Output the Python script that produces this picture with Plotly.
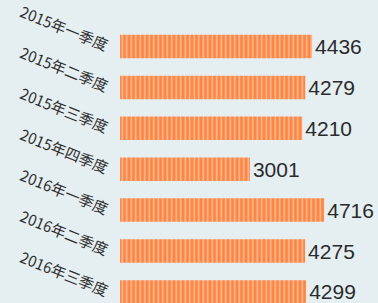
import plotly.graph_objects as go

categories = ["2015年一季度", "2015年二季度", "2015年三季度", "2015年四季度",
              "2016年一季度", "2016年二季度", "2016年三季度"]
values = [4436, 4279, 4210, 3001, 4716, 4275, 4299]

W, H = 378, 303
left = 120
px_per_unit = 0.0433
row = 40.9
first_center = 46.5
BG = "#e5eff2"
ORANGE = "#fd8644"

x_max = (W - left) / px_per_unit
y_top = -first_center / row
y_bot = y_top + H / row

fig = go.Figure(go.Bar(
    x=values,
    y=list(range(len(categories))),
    orientation="h",
    marker=dict(
        color=ORANGE,
        line=dict(width=0),
        pattern=dict(shape="|", fgcolor="#ffffff", bgcolor=ORANGE,
                     size=4.5, solidity=0.3),
    ),
    text=[str(v) for v in values],
    textposition="outside",
    textfont=dict(family="Liberation Sans, Arial, sans-serif", size=21, color="#2b2b2b"),
    cliponaxis=False,
    hoverinfo="skip",
))

fig.update_layout(
    width=W, height=H,
    margin=dict(l=left, r=0, t=0, b=0),
    paper_bgcolor=BG,
    plot_bgcolor="rgba(0,0,0,0)",
    bargap=0.425,
    showlegend=False,
    xaxis=dict(range=[0, x_max], visible=False, fixedrange=True),
    yaxis=dict(
        range=[y_bot, y_top],
        tickmode="array",
        tickvals=list(range(len(categories))),
        ticktext=categories,
        tickangle=22,
        ticklabelstandoff=11,
        tickfont=dict(family="Noto Sans CJK SC", size=15, color="#2e2e2e"),
        showgrid=False, zeroline=False, showline=False, ticks="",
        automargin=False,
        fixedrange=True,
    ),
)

fig.write_html(
    "out.html",
    config={"displayModeBar": False, "staticPlot": True},
    post_script="document.body.style.margin='0';document.body.style.background='%s';" % BG,
)
